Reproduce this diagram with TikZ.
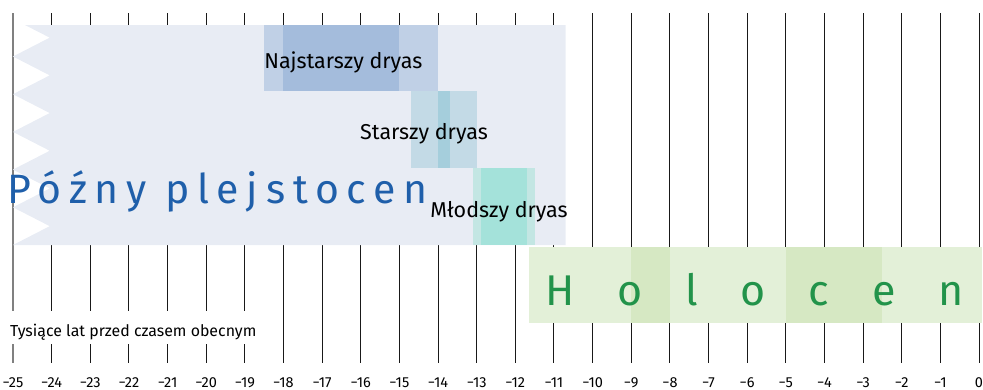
\documentclass[tikz,border=0pt]{standalone}
\usepackage{fontspec}
\setmainfont{Fira Sans}
\definecolor{pleist}{HTML}{E8ECF4}
\definecolor{ndA}{HTML}{C0D0E6}
\definecolor{ndB}{HTML}{A4BCDC}
\definecolor{sdA}{HTML}{C3DAE6}
\definecolor{sdB}{HTML}{A5CEDC}
\definecolor{mdA}{HTML}{C3E6E3}
\definecolor{mdB}{HTML}{A4E2DA}
\definecolor{holA}{HTML}{E3F0D8}
\definecolor{holB}{HTML}{D6E8C3}
\definecolor{plblue}{HTML}{1F5FAA}
\definecolor{holgreen}{HTML}{22934A}
\tikzset{
  tickline/.style={draw=black!90, line width=0.9pt},
  firsttick/.style={draw=black!50, line width=1.2pt},
  stagelabel/.style={anchor=base west, inner sep=0pt, font=\fontsize{21.5}{22}\selectfont, text=black},
  numlab/.style={anchor=base, inner sep=0pt, font=\fontsize{14.5}{16}\selectfont, text=black},
}
\begin{document}
\begin{tikzpicture}[x=38.64pt,y=-1pt]
\useasboundingbox (-25.336,0) rectangle (0.1035,389);
% grid lines
\foreach \t in {-24,...,0} \draw[tickline] (\t,13) -- (\t,363);
\draw[firsttick] (-25,13) -- (-25,363);
% late pleistocene
\fill[pleist] (-24.69,25) -- (-10.7,25) -- (-10.7,245) -- (-25,245)
  -- (-24.05,226.15) -- (-25,207.3) -- (-24.05,188.45) -- (-25,169.6)
  -- (-24.05,150.75) -- (-25,131.9) -- (-24.05,113.05) -- (-25,94.2)
  -- (-24.05,75.35) -- (-25,56.5) -- (-24.05,37.65) -- cycle;
% dryas
\fill[ndA] (-18.5,25) rectangle (-14,90.7);
\fill[ndB] (-18,25) rectangle (-15,90.7);
\fill[sdA] (-14.7,90.7) rectangle (-13,167.7);
\fill[sdB] (-14,90.7) rectangle (-13.7,167.7);
\fill[mdA] (-13.1,167.7) rectangle (-11.5,245);
\fill[mdB] (-12.9,167.7) rectangle (-11.7,245);
% holocene
\fill[holA] (-11.65,246.7) rectangle (0.08,322.7);
\fill[holB] (-9,246.7) rectangle (-8,322.7);
\fill[holB] (-5,246.7) rectangle (-2.5,322.7);
% texts
\node[anchor=base west, inner sep=0pt, text=plblue,
  font=\fontsize{41}{41}\selectfont\addfontfeatures{LetterSpace=19}]
  (pleistlabel) at (-25.155,203.3) {Późny plejstocen};
\node[anchor=base west, inner sep=0pt, text=holgreen,
  font=\fontsize{43}{43}\selectfont]
  (hollabel) at (-11.219,305) {\makebox[418pt][s]{H o l o c e n}};
\node[stagelabel] (najst) at (-18.5,68) {Najstarszy dryas};
\node[stagelabel] (starsz) at (-16.02,139) {Starszy dryas};
\node[stagelabel] (mlodsz) at (-14.2,217) {Młodszy dryas};
\node[anchor=base west, fill=white, inner xsep=3pt, inner ysep=0pt,
  text height=26pt, text depth=7pt, font=\fontsize{15.9}{17}\selectfont]
  (axistitle) at (-25.155,336.5) {Tysiące lat przed czasem obecnym};
\foreach \t in {-25,...,0}{
  \pgfmathtruncatemacro\a{-\t}
  \node[numlab] (num\a) at (\t,387) {\ifnum\a=0 0\else −\a\fi};
}
\end{tikzpicture}
\end{document}
